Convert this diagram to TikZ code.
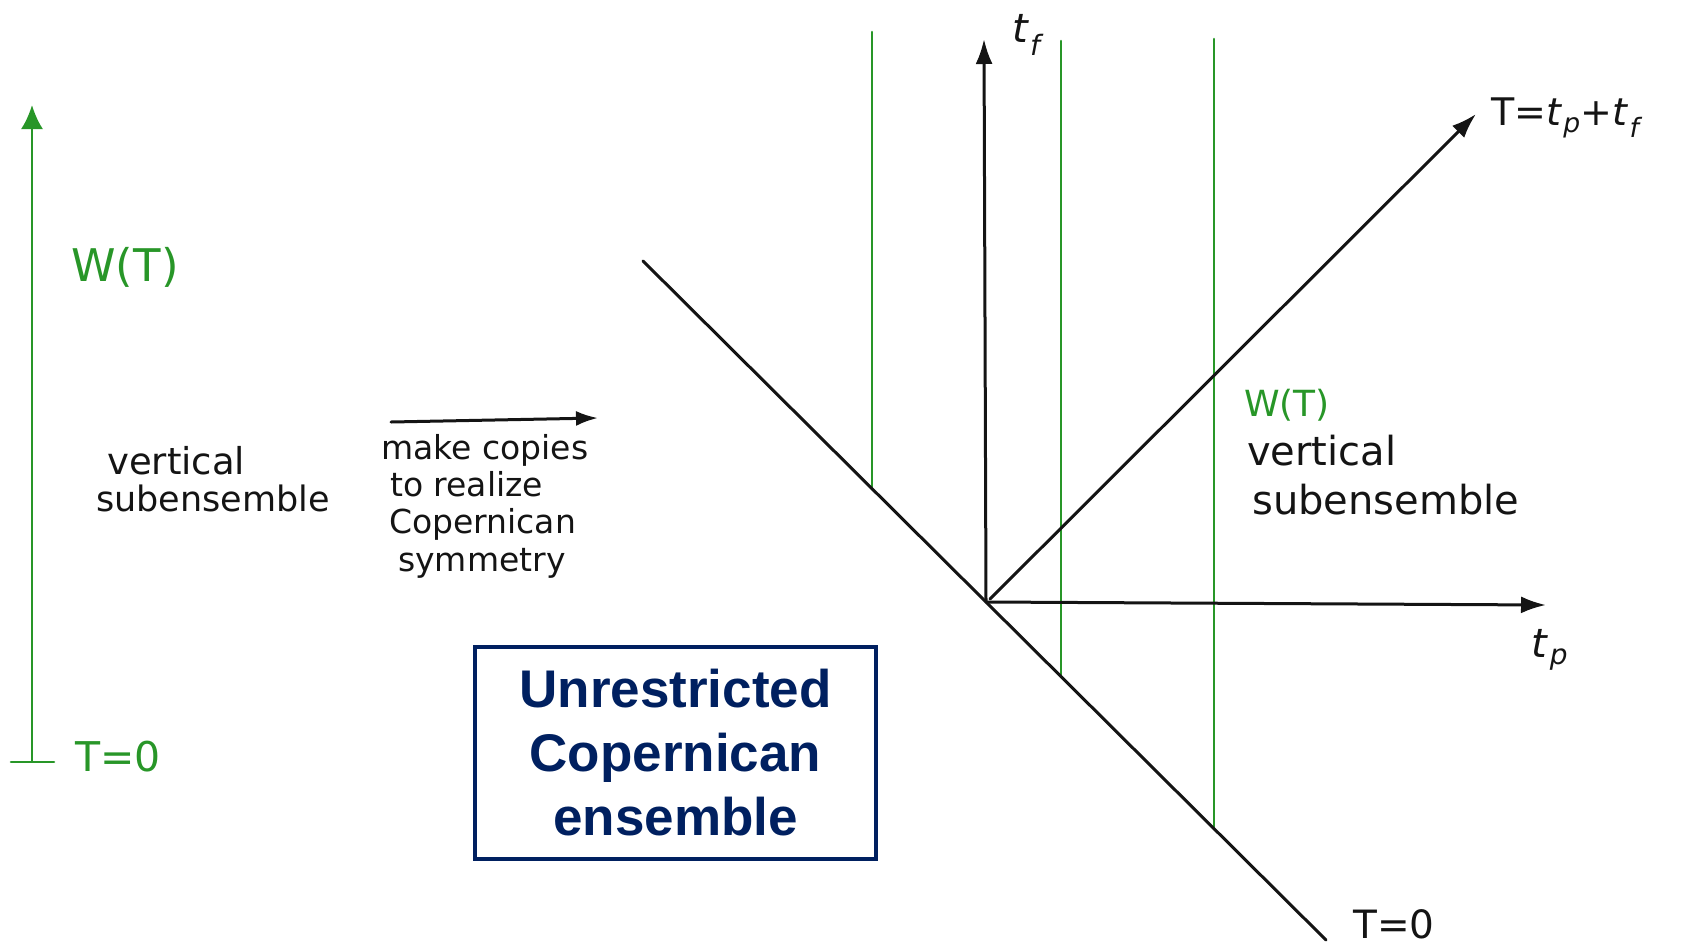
\documentclass[tikz,border=0pt]{standalone}
\usepackage{fontspec}
\setmainfont{DejaVu Sans}
\newfontfamily\boxfont{Liberation Sans}
\usetikzlibrary{arrows.meta}
\definecolor{pen}{RGB}{20,20,20}
\definecolor{gpen}{RGB}{40,150,40}
\definecolor{navy}{RGB}{0,32,96}
\newcommand{\tsub}[1]{\textit{t}\kern1pt\textsubscript{\textit{#1}}}
\begin{document}
\begin{tikzpicture}[x=1pt,y=-1pt,
  blk/.style={draw=pen, line width=3pt, line cap=round},
  grn/.style={draw=gpen, line width=2.6pt, line cap=round},
  tipb/.style={-{Latex[length=25pt,width=17pt]}},
  tipg/.style={-{Latex[length=24pt,width=22pt]}},
  hand/.style={inner sep=0pt, anchor=west, text=pen},
  glab/.style={inner sep=0pt, text=gpen},
  fs/.style={font=\fontsize{#1}{#1}\selectfont}
]
\useasboundingbox (0,0) rectangle (1681,948);

% ---- left vertical subensemble ----
\coordinate (lb) at (32,761);
\coordinate (lt) at (32,105);
\coordinate (lk1) at (11,762);
\coordinate (lk2) at (54,762);
\draw[grn, tipg] (lb) -- (lt);
\draw[grn] (lk1) -- (lk2);
\node[glab, fs=45] (wl) at (125,267) {W(T)};
\node[glab, fs=41] (t0l) at (118,757) {T=0};
\node[hand, fs=37] (vl1) at (107,461) {vertical};
\node[hand, fs=35] (vl2) at (96,498) {subensemble};

% ---- make copies arrow ----
\coordinate (m1) at (391,422);
\coordinate (m2) at (598,418);
\draw[blk, -{Latex[length=22pt,width=15pt]}] (m1) -- (m2);
\node[hand, align=left, font=\fontsize{33}{37.3}\selectfont] (mc) at (381,506)
  {make copies\\\hspace{9pt}to realize\\\hspace{8pt}Copernican\\\hspace{17pt}symmetry};

% ---- box ----
\node[draw=navy, line width=4.5pt, text=navy, align=center,
      font=\boxfont\bfseries\fontsize{53}{64}\selectfont,
      minimum width=401pt, minimum height=212pt, inner sep=0pt] (box) at (675.5,753)
  {Unrestricted\\Copernican\\ensemble};

% ---- axes ----
\coordinate (O) at (986,602);
\coordinate (tfT) at (984,39);
\coordinate (tpE) at (1546,605);
\coordinate (dS) at (990,599);
\coordinate (dE) at (1476,114);
\coordinate (aS) at (643,261);
\coordinate (aE) at (1326,940);

% green verticals
\coordinate (g1t) at (872,32);   \coordinate (g1b) at (872,489);
\coordinate (g2t) at (1061,41);  \coordinate (g2b) at (1061,677);
\coordinate (g3t) at (1214,39);  \coordinate (g3b) at (1214,829);
\draw[grn] (g1b) -- (g1t);
\draw[grn] (g2b) -- (g2t);
\draw[grn] (g3b) -- (g3t);

\draw[blk, tipb] (O) -- (tfT);
\draw[blk, tipb] (O) -- (tpE);
\draw[blk, tipb] (dS) -- (dE);
\draw[blk] (aS) -- (aE);

\node[inner sep=0pt, text=pen, fs=40] (tf) at (1028,35) {\tsub{f}};
\node[inner sep=0pt, text=pen, fs=40] (tp) at (1550,650) {\tsub{p}};
\node[hand, fs=38] (Tsum) at (1491,118) {T=\tsub{p}+\tsub{f}};

\node[glab, fs=36, anchor=west] (wr) at (1244,405) {W(T)};
\node[hand, fs=40] (vr1) at (1247,451) {vertical};
\node[hand, fs=40] (vr2) at (1252,500) {subensemble};
\node[inner sep=0pt, text=pen, fs=39] (t0r) at (1394,924) {T=0};
\end{tikzpicture}
\end{document}
